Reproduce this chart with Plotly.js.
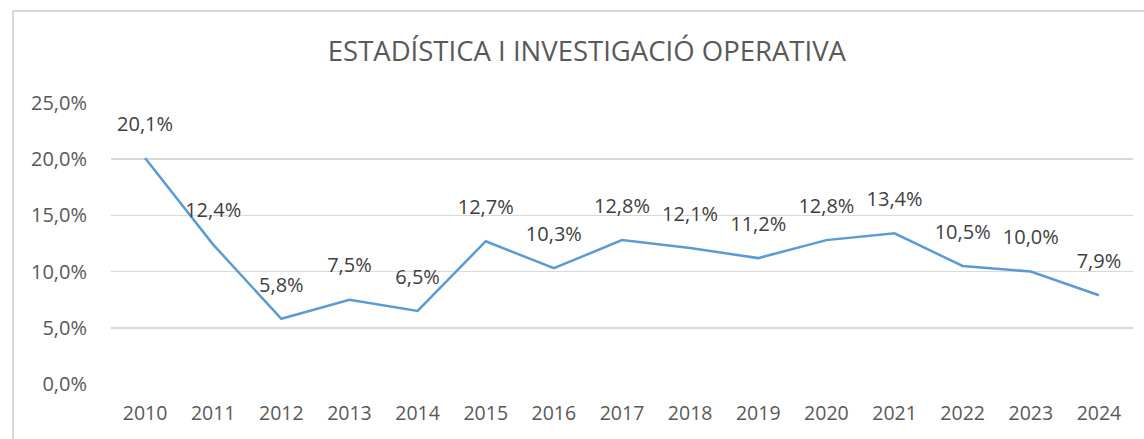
<!DOCTYPE html>
<html>
<head>
<meta charset="utf-8">
<script src="https://cdn.plot.ly/plotly-3.0.1.min.js"></script>
<style>
html,body{margin:0;padding:0;background:#fff;overflow:hidden;}
#frame{position:absolute;left:12px;top:10px;width:1200px;height:500px;border:2px solid #d9d9d9;box-sizing:border-box;}
#chart{position:absolute;left:0;top:0;width:1144px;height:439px;}
</style>
</head>
<body>
<div id="frame"></div>
<div id="chart"></div>
<script>
const years = ["2010","2011","2012","2013","2014","2015","2016","2017","2018","2019","2020","2021","2022","2023","2024"];
const values = [20.1, 12.4, 5.8, 7.5, 6.5, 12.7, 10.3, 12.8, 12.1, 11.2, 12.8, 13.4, 10.5, 10.0, 7.9];
const yTicks = [0, 5, 10, 15, 20, 25];
const yTickLabels = ["0,0%", "5,0%", "10,0%", "15,0%", "20,0%", "25,0%"];
const titleText = "ESTADÍSTICA I INVESTIGACIÓ OPERATIVA";

const fontFam = "Open Sans, Noto Sans, sans-serif";
const grey = "#595959";

const labels = values.map(v => v.toFixed(1).replace(".", ",") + "%");

const trace = {
  x: years,
  y: values,
  type: "scatter",
  mode: "lines+markers+text",
  line: {color: "#5B9BD5", width: 2.5},
  marker: {size: 34, color: "rgba(0,0,0,0)"},
  text: labels,
  textposition: "top center",
  textfont: {family: fontFam, size: 20, color: "#404040"},
  cliponaxis: false,
  hoverinfo: "skip"
};

const layout = {
  width: 1144, height: 439,
  margin: {l: 111, r: 11, t: 103, b: 55},
  paper_bgcolor: "rgba(0,0,0,0)",
  plot_bgcolor: "rgba(0,0,0,0)",
  showlegend: false,
  title: {text: titleText, x: 0.513, xanchor: "center", y: 0.882, yanchor: "middle",
          font: {family: fontFam, size: 27.5, color: grey}},
  xaxis: {type: "category", range: [-0.5, 14.5], showgrid: false, zeroline: false,
          showline: false, ticks: "", ticklabelstandoff: 15,
          tickfont: {family: fontFam, size: 19.5, color: grey}},
  yaxis: {range: [0, 25], tickvals: yTicks, ticktext: yTickLabels, showgrid: true,
          gridcolor: "#d9d9d9", gridwidth: 1.5, zeroline: false, showline: false, ticks: "",
          ticklabelstandoff: 23,
          tickfont: {family: fontFam, size: 20, color: grey}}
};

Plotly.newPlot("chart", [trace], layout, {displayModeBar: false, staticPlot: true});
</script>
</body>
</html>
